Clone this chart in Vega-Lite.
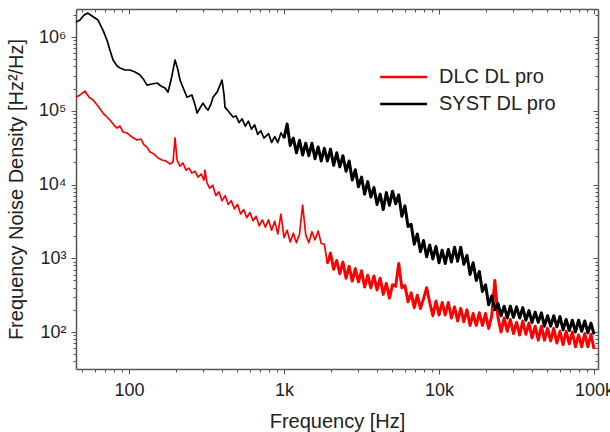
{
"$schema": "https://vega.github.io/schema/vega-lite/v6.json",
"width": 522, "height": 360,
"autosize": "none",
"padding": {"left": 76, "top": 9, "right": 12, "bottom": 63},
"background": "white",
"config": {
 "view": {"stroke": null},
 "font": "Liberation Sans",
 "line": {"strokeJoin": "round", "clip": true},
 "axis": {"grid": false, "domainColor": "#555", "domainWidth": 1.5, "tickColor": "#555", "tickWidth": 1, "labelColor": "#222", "titleColor": "#222", "labelFont": "Liberation Sans", "titleFont": "Liberation Sans", "labelFontSize": 18, "titleFontSize": 20, "titleFontWeight": "normal"}
},
"datasets": {
"dlc": [
{"f":45.5,"v":153000},{"f":48.3,"v":164000},{"f":52,"v":185000},{"f":55.2,"v":153000},{"f":58.6,"v":140000},{"f":63.1,"v":116000},{"f":67.9,"v":93100},{"f":71.1,"v":84900},{"f":75.3,"v":75000},{"f":80,"v":64100},{"f":83.8,"v":58300},{"f":87.5,"v":62100},{"f":91.5,"v":51500},{"f":97.1,"v":49900},{"f":104.5,"v":44100},{"f":112.6,"v":40100},{"f":119.4,"v":41400},{"f":125,"v":34400},{"f":130.6,"v":32200},{"f":136.5,"v":27600},{"f":144.9,"v":25900},{"f":153.8,"v":22900},{"f":163.3,"v":21500},{"f":173.4,"v":20800},{"f":184.1,"v":19000},{"f":192.3,"v":20200},{"f":198.2,"v":42800},{"f":204.2,"v":21500},{"f":213.3,"v":17800},{"f":222.8,"v":19600},{"f":233.3,"v":15700},{"f":243.8,"v":16700},{"f":254.7,"v":14300},{"f":266.7,"v":15200},{"f":278.6,"v":12600},{"f":291.7,"v":13900},{"f":304.8,"v":11500},{"f":309,"v":15700},{"f":318.4,"v":10500},
{"f":331.1,"v":8913},{"f":346.7,"v":9772},{"f":363.1,"v":7079},{"f":380.2,"v":7943},{"f":398.1,"v":6026},{"f":416.9,"v":7079},{"f":436.5,"v":5370},{"f":457.1,"v":6026},{"f":478.6,"v":4677},{"f":501.2,"v":5370},{"f":524.8,"v":3981},{"f":549.5,"v":4571},{"f":575.4,"v":3548},{"f":602.6,"v":4169},{"f":631,"v":3236},{"f":660.7,"v":3715},{"f":691.8,"v":2754},{"f":724.4,"v":3311},{"f":758.6,"v":2630},{"f":794.3,"v":3311},{"f":831.8,"v":2399},{"f":871,"v":3162},{"f":912,"v":2138},{"f":955,"v":3981},{"f":1000,"v":1905},{"f":1047,"v":2399},{"f":1096,"v":1660},{"f":1148,"v":2188},{"f":1202,"v":1622},{"f":1259,"v":2138},{"f":1318,"v":5248},{"f":1380,"v":2089},{"f":1445,"v":1622},{"f":1514,"v":2291},{"f":1585,"v":1778},{"f":1660,"v":2344},{"f":1738,"v":1585},{"f":1820,"v":1549},{"f":1905,"v":851},{"f":1995,"v":1175},{"f":2089,"v":708},{"f":2188,"v":933},{"f":2291,"v":617},{"f":2399,"v":891},{"f":2512,"v":537},{"f":2630,"v":776},{"f":2754,"v":490},{"f":2884,"v":724},{"f":3020,"v":479},{"f":3162,"v":676},{"f":3311,"v":407},{"f":3467,"v":589},{"f":3631,"v":398},{"f":3802,"v":575},{"f":3981,"v":372},{"f":4169,"v":537},{"f":4365,"v":324},{"f":4571,"v":457},{"f":4786,"v":288},{"f":5012,"v":437},{"f":5248,"v":417},{"f":5495,"v":851},{"f":5754,"v":398},{"f":6026,"v":427},{"f":6310,"v":257},{"f":6607,"v":339},{"f":6918,"v":214},{"f":7244,"v":316},{"f":7586,"v":209},{"f":7943,"v":282},{"f":8318,"v":398},{"f":8710,"v":251},{"f":9120,"v":166},{"f":9550,"v":263},{"f":10000,"v":170},{"f":10470,"v":251},{"f":10960,"v":170},{"f":11480,"v":251},{"f":12020,"v":155},{"f":12590,"v":219},{"f":13180,"v":141},{"f":13800,"v":209},{"f":14450,"v":138},{"f":15140,"v":200},{"f":15850,"v":123},{"f":16600,"v":178},{"f":17380,"v":123},{"f":18200,"v":182},{"f":19050,"v":123},{"f":19950,"v":178},{"f":20890,"v":112},{"f":21880,"v":166},{"f":22910,"v":501},{"f":23990,"v":158.5},{"f":25120,"v":100},{"f":26300,"v":155},{"f":27540,"v":102.3},{"f":28840,"v":148},{"f":30200,"v":95.5},{"f":31620,"v":135},{"f":33110,"v":91.2},{"f":34670,"v":141},{"f":36310,"v":93.3},{"f":38020,"v":132},{"f":39810,"v":83.2},{"f":41690,"v":120},{"f":43650,"v":77.6},{"f":45710,"v":120},{"f":47860,"v":77.6},{"f":50120,"v":112},{"f":52480,"v":75.9},{"f":54950,"v":112},{"f":57540,"v":70.8},{"f":60260,"v":102.3},{"f":63100,"v":67.6},{"f":66070,"v":102.3},{"f":69180,"v":69.2},{"f":72440,"v":100},{"f":75860,"v":63.1},{"f":79430,"v":91.2},{"f":83180,"v":63.1},{"f":87100,"v":95.5},{"f":91200,"v":63.1},{"f":95500,"v":93.3},{"f":100000,"v":58.9}
],
"syst": [
{"f":45.5,"v":1600000},{"f":48.3,"v":1700000},{"f":51.3,"v":1990000},{"f":54.3,"v":2110000},{"f":57.7,"v":1930000},{"f":63.1,"v":1700000},{"f":67.9,"v":1240000},{"f":72.1,"v":910000},{"f":75.3,"v":667000},{"f":78.9,"v":488000},{"f":83.8,"v":405000},{"f":87.5,"v":380000},{"f":94.2,"v":357000},{"f":101.4,"v":357000},{"f":109.4,"v":335000},{"f":117.8,"v":305000},{"f":125,"v":261000},{"f":130.6,"v":223000},{"f":140.6,"v":231000},{"f":151.7,"v":238000},{"f":160.7,"v":217000},{"f":170.6,"v":203000},{"f":178.6,"v":179000},{"f":186.6,"v":261000},{"f":198.2,"v":488000},{"f":207,"v":357000},{"f":213.3,"v":261000},{"f":226.5,"v":191000},{"f":236.6,"v":153000},{"f":254.7,"v":164000},{"f":266.7,"v":120000},{"f":274.8,"v":93100},{"f":287.1,"v":109000},{"f":299.9,"v":127000},{"f":314.1,"v":109000},{"f":323.6,"v":102000},{"f":338.1,"v":124000},{"f":348.3,"v":153000},{"f":369.8,"v":179000},{"f":386.4,"v":223000},{"f":398.1,"v":261000},{"f":410.2,"v":164000},{"f":415.9,"v":112000},{"f":441.6,"v":96200},{"f":468.8,"v":82200},{"f":489.8,"v":85100},{"f":512.9,"v":69200},{"f":537,"v":77600},{"f":562.3,"v":61700},{"f":588.8,"v":72400},{"f":616.6,"v":56200},{"f":645.7,"v":64600},{"f":676.1,"v":47900},{"f":707.9,"v":53700},{"f":741.3,"v":42700},
{"f":794.3,"v":48980},{"f":831.8,"v":37150},{"f":871,"v":44670},{"f":912,"v":37150},{"f":955,"v":50120},{"f":1000,"v":42660},{"f":1047,"v":66070},{"f":1096,"v":33880},{"f":1148,"v":42660},{"f":1202,"v":26920},{"f":1259,"v":39810},{"f":1318,"v":25120},{"f":1380,"v":36310},{"f":1445,"v":24550},{"f":1514,"v":36310},{"f":1585,"v":22390},{"f":1660,"v":32360},{"f":1738,"v":20890},{"f":1820,"v":30900},{"f":1905,"v":20890},{"f":1995,"v":30200},{"f":2089,"v":18200},{"f":2188,"v":26920},{"f":2291,"v":17380},{"f":2399,"v":24550},{"f":2512,"v":15140},{"f":2630,"v":20890},{"f":2754,"v":11480},{"f":2884,"v":15850},{"f":3020,"v":9333},{"f":3162,"v":12590},{"f":3311,"v":7413},{"f":3467,"v":10960},{"f":3631,"v":6761},{"f":3802,"v":9120},{"f":3981,"v":5370},{"f":4169,"v":7413},{"f":4365,"v":4571},{"f":4571,"v":7762},{"f":4786,"v":5248},{"f":5012,"v":8128},{"f":5248,"v":5495},{"f":5495,"v":7244},{"f":5754,"v":3715},{"f":6026,"v":5129},{"f":6310,"v":2692},{"f":6607,"v":2884},{"f":6918,"v":1549},{"f":7244,"v":2138},{"f":7586,"v":1230},{"f":7943,"v":1738},{"f":8318,"v":1047},{"f":8710,"v":1514},{"f":9120,"v":977},{"f":9550,"v":1445},{"f":10000,"v":871},{"f":10470,"v":1288},{"f":10960,"v":851},{"f":11480,"v":1318},{"f":12020,"v":891},{"f":12590,"v":1413},{"f":13180,"v":912},{"f":13800,"v":1413},{"f":14450,"v":832},{"f":15140,"v":1096},{"f":15850,"v":603},{"f":16600,"v":871},{"f":17380,"v":501},{"f":18200,"v":661},{"f":19050,"v":355},{"f":19950,"v":437},{"f":20890,"v":234},{"f":21880,"v":309},{"f":22910,"v":200},{"f":23990,"v":245},{"f":25120,"v":166},{"f":26300,"v":224},{"f":27540,"v":155},{"f":28840,"v":224},{"f":30200,"v":158.5},{"f":31620,"v":219},{"f":33110,"v":155},{"f":34670,"v":214},{"f":36310,"v":144.5},{"f":38020,"v":195},{"f":39810,"v":135},{"f":41690,"v":186},{"f":43650,"v":135},{"f":45710,"v":182},{"f":47860,"v":120},{"f":50120,"v":166},{"f":52480,"v":120},{"f":54950,"v":166},{"f":57540,"v":117.5},{"f":60260,"v":162},{"f":63100,"v":107.2},{"f":66070,"v":148},{"f":69180,"v":104.7},{"f":72440,"v":144.5},{"f":75860,"v":100},{"f":79430,"v":144.5},{"f":83180,"v":102.3},{"f":87100,"v":141},{"f":91200,"v":97.7},{"f":95500,"v":132},{"f":100000,"v":93.3}
]
},
"layer": [
{
 "data": {"name": "dlc"},
 "mark": {"type": "line", "strokeWidth": 1.7},
 "encoding": {
  "x": {"field": "f", "type": "quantitative",
   "scale": {"type": "log", "domain": [45.5, 106000], "nice": false},
   "axis": {"orient": "bottom", "title": "Frequency [Hz]",
    "values": [50,60,70,80,90,100,200,300,400,500,600,700,800,900,1000,2000,3000,4000,5000,6000,7000,8000,9000,10000,20000,30000,40000,50000,60000,70000,80000,90000,100000],
    "labelExpr": "datum.value == 100 ? '100' : datum.value == 1000 ? '1k' : datum.value == 10000 ? '10k' : datum.value == 100000 ? '100k' : ''",
    "labelOverlap": false, "labelFlush": false, "labelPadding": 7, "titlePadding": 12,
    "tickSize": {"condition": {"test": "indexof([100,1000,10000,100000], datum.value) >= 0", "value": 5}, "value": 3}}},
  "y": {"field": "v", "type": "quantitative",
   "scale": {"type": "log", "domain": [31.5, 2400000], "nice": false},
   "axis": {"orient": "left", "title": "Frequency Noise Density [Hz²/Hz]",
    "values": [40,50,60,70,80,90,100,200,300,400,500,600,700,800,900,1000,2000,3000,4000,5000,6000,7000,8000,9000,10000,20000,30000,40000,50000,60000,70000,80000,90000,100000,200000,300000,400000,500000,600000,700000,800000,900000,1000000,2000000],
    "labelExpr": "datum.value == 100 ? '10²' : datum.value == 1000 ? '10³' : datum.value == 10000 ? '10⁴' : datum.value == 100000 ? '10⁵' : datum.value == 1000000 ? '10⁶' : ''",
    "labelOverlap": false, "labelFlush": false, "labelPadding": 5, "titlePadding": 12,
    "tickSize": {"condition": {"test": "indexof([100,1000,10000,100000,1000000], datum.value) >= 0", "value": 5}, "value": 3}}},
  "color": {"datum": "DLC DL pro", "type": "nominal",
   "scale": {"domain": ["DLC DL pro", "SYST DL pro"], "range": ["#ff0000", "#000000"]},
   "legend": {"orient": "none", "legendX": 302, "legendY": 58, "title": null, "symbolType": "M-1,0H5", "symbolSize": 245, "symbolStrokeWidth": 2.5, "labelFontSize": 20, "labelFont": "Liberation Sans", "labelColor": "#222", "labelOffset": 41, "rowPadding": 7, "padding": 0}}
 }
},
{
 "data": {"name": "dlc"},
 "transform": [{"filter": "datum.f >= 1900"}],
 "mark": {"type": "line", "strokeWidth": 3},
 "encoding": {
  "x": {"field": "f", "type": "quantitative", "scale": {"type": "log", "domain": [45.5, 106000], "nice": false}, "axis": null},
  "y": {"field": "v", "type": "quantitative", "scale": {"type": "log", "domain": [31.5, 2400000], "nice": false}, "axis": null},
  "color": {"datum": "DLC DL pro", "type": "nominal",
   "scale": {"domain": ["DLC DL pro", "SYST DL pro"], "range": ["#ff0000", "#000000"]},
   "legend": {"orient": "none", "legendX": 302, "legendY": 58, "title": null, "symbolType": "M-1,0H5", "symbolSize": 245, "symbolStrokeWidth": 2.5, "labelFontSize": 20, "labelFont": "Liberation Sans", "labelColor": "#222", "labelOffset": 41, "rowPadding": 7, "padding": 0}}
 }
},
{
 "data": {"name": "syst"},
 "mark": {"type": "line", "strokeWidth": 1.7},
 "encoding": {
  "x": {"field": "f", "type": "quantitative",
   "scale": {"type": "log", "domain": [45.5, 106000], "nice": false},
   "axis": {"orient": "top", "title": null, "labels": false,
    "values": [50,60,70,80,90,100,200,300,400,500,600,700,800,900,1000,2000,3000,4000,5000,6000,7000,8000,9000,10000,20000,30000,40000,50000,60000,70000,80000,90000,100000],
    "tickSize": {"condition": {"test": "indexof([100,1000,10000,100000], datum.value) >= 0", "value": -5}, "value": -3}}},
  "y": {"field": "v", "type": "quantitative",
   "scale": {"type": "log", "domain": [31.5, 2400000], "nice": false},
   "axis": {"orient": "right", "title": null, "labels": false,
    "values": [40,50,60,70,80,90,100,200,300,400,500,600,700,800,900,1000,2000,3000,4000,5000,6000,7000,8000,9000,10000,20000,30000,40000,50000,60000,70000,80000,90000,100000,200000,300000,400000,500000,600000,700000,800000,900000,1000000,2000000],
    "tickSize": {"condition": {"test": "indexof([100,1000,10000,100000,1000000], datum.value) >= 0", "value": -5}, "value": -3}}},
  "color": {"datum": "SYST DL pro", "type": "nominal",
   "scale": {"domain": ["DLC DL pro", "SYST DL pro"], "range": ["#ff0000", "#000000"]},
   "legend": {"orient": "none", "legendX": 302, "legendY": 58, "title": null, "symbolType": "M-1,0H5", "symbolSize": 245, "symbolStrokeWidth": 2.5, "labelFontSize": 20, "labelFont": "Liberation Sans", "labelColor": "#222", "labelOffset": 41, "rowPadding": 7, "padding": 0}}
 }
},
{
 "data": {"name": "syst"},
 "transform": [{"filter": "datum.f >= 1000"}],
 "mark": {"type": "line", "strokeWidth": 3},
 "encoding": {
  "x": {"field": "f", "type": "quantitative", "scale": {"type": "log", "domain": [45.5, 106000], "nice": false}, "axis": null},
  "y": {"field": "v", "type": "quantitative", "scale": {"type": "log", "domain": [31.5, 2400000], "nice": false}, "axis": null},
  "color": {"datum": "SYST DL pro", "type": "nominal",
   "scale": {"domain": ["DLC DL pro", "SYST DL pro"], "range": ["#ff0000", "#000000"]},
   "legend": {"orient": "none", "legendX": 302, "legendY": 58, "title": null, "symbolType": "M-1,0H5", "symbolSize": 245, "symbolStrokeWidth": 2.5, "labelFontSize": 20, "labelFont": "Liberation Sans", "labelColor": "#222", "labelOffset": 41, "rowPadding": 7, "padding": 0}}
 }
}
],
"resolve": {"axis": {"x": "independent", "y": "independent"}}
}
